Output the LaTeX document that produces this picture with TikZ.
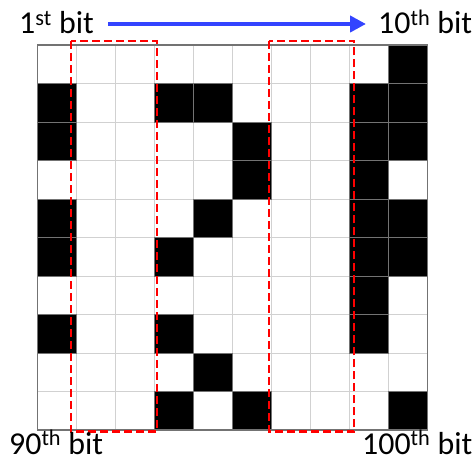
\documentclass[tikz,border=0pt]{standalone}
\usepackage{fontspec}
\setmainfont{Carlito}
\usetikzlibrary{arrows.meta}
\begin{document}
\begin{tikzpicture}[x=1bp,y=-1bp,
  cellline/.style={draw=black!18,line width=0.8bp},
  blackcell/.style={fill=black,draw=black!55,line width=0.8bp},
  redbox/.style={draw=red,line width=2.2bp,dash pattern=on 8bp off 4bp},
  lbl/.style={anchor=base west,inner sep=0pt,font=\fontsize{32}{36}\selectfont},
  bluearrow/.style={draw={rgb,255:red,51;green,68;blue,255},line width=4.5bp,-{Triangle[length=16bp,width=16bp]}}]
\useasboundingbox (0,0) rectangle (475,459);
\def\cx{39}\def\cy{38.5}\def\ox{37.3}\def\oy{45}
% grid
\foreach \i in {1,...,9}{
  \draw[cellline] ({\ox+\i*\cx},\oy) -- ({\ox+\i*\cx},{\oy+10*\cy});
  \draw[cellline] (\ox,{\oy+\i*\cy}) -- ({\ox+10*\cx},{\oy+\i*\cy});
}
% black cells: row/col
\foreach \r/\c in {0/9,
  1/0,1/3,1/4,1/8,1/9,
  2/0,2/5,2/8,2/9,
  3/5,3/8,
  4/0,4/4,4/8,4/9,
  5/0,5/3,5/8,5/9,
  6/8,
  7/0,7/3,7/8,
  8/4,
  9/3,9/5,9/9}{
  \draw[blackcell] ({\ox+\c*\cx},{\oy+\r*\cy}) rectangle ({\ox+(\c+1)*\cx},{\oy+(\r+1)*\cy});
}
\draw[draw=black!55,line width=1.2bp] (\ox,\oy) rectangle ({\ox+10*\cx},{\oy+10*\cy});
% red dashed boxes
\draw[redbox] (70.7,41) rectangle (156.7,431.5);
\draw[redbox] (269,41) rectangle (354.3,431.5);
% labels
\node[lbl] (t1) at (19,34) {1\textsuperscript{st} bit};
\node[lbl] (t10) at (378,34) {10\textsuperscript{th} bit};
\node[lbl] (t90) at (9,454) {90\textsuperscript{th} bit};
\node[lbl] (t100) at (362,454) {100\textsuperscript{th} bit};
\coordinate (as) at (108,24);
\coordinate (ae) at (366,24);
\draw[bluearrow] (as) -- (ae);
\end{tikzpicture}
\end{document}
